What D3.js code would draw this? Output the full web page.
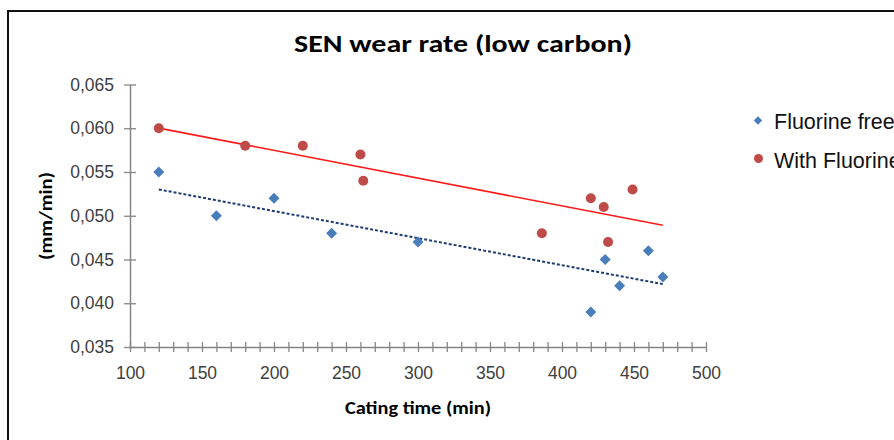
<!DOCTYPE html>
<html><head><meta charset="utf-8">
<script src="https://cdn.jsdelivr.net/npm/d3@7"></script>
<style>body{margin:0;background:#fff}svg{display:block}</style>
</head><body><svg id="c" width="894" height="440"></svg>
<script>
const title = "SEN wear rate (low carbon)";
const xTitle = "Cating time (min)";
const yTitle = "(mm/min)";
const seriesNames = ["Fluorine free", "With Fluorine"];
const freeX = [120, 160, 200, 240, 300, 420, 430, 440, 460, 470];
const freeY = [0.055, 0.050, 0.052, 0.048, 0.047, 0.039, 0.045, 0.042, 0.046, 0.043];
const withX = [120, 180, 220, 260, 262, 386, 420, 429, 432, 449];
const withY = [0.060, 0.058, 0.058, 0.057, 0.054, 0.048, 0.052, 0.051, 0.047, 0.053];
const trendRange = [120, 470];
const xTicks = [100, 150, 200, 250, 300, 350, 400, 450, 500];
const yTicks = [0.035, 0.040, 0.045, 0.050, 0.055, 0.060, 0.065];

const svg = d3.select("#c");
const x = d3.scaleLinear().domain([100, 500]).range([130, 706]);
const y = d3.scaleLinear().domain([0.035, 0.065]).range([347, 84.5]);
const axisCol = "#868686";
const txtCol = "#404040";

// outer chart border
svg.append("rect").attr("x", 8).attr("y", 11).attr("width", 900).attr("height", 440)
  .attr("fill", "none").attr("stroke", "#111").attr("stroke-width", 2);

svg.append("text").attr("x", 463).attr("y", 52).attr("text-anchor", "middle")
  .attr("font-family", "Carlito, 'Liberation Sans Narrow', 'Liberation Sans', sans-serif")
  .attr("font-weight", "bold").attr("font-size", 24).attr("fill", "#000")
  .attr("textLength", 338).attr("lengthAdjust", "spacingAndGlyphs").text(title);

// y axis
const yAxis = d3.axisLeft(y).tickValues(yTicks).tickSize(6).tickSizeOuter(0)
  .tickFormat(d => d3.format(".3f")(d).replace(".", ","));
const gy = svg.append("g").attr("transform", `translate(${x(100)},0)`).call(yAxis);
gy.select(".domain").attr("stroke", axisCol).attr("stroke-width", 1.5);
gy.selectAll(".tick line").attr("stroke", axisCol).attr("stroke-width", 1.3).attr("x2", 6).attr("x1", -6);
gy.selectAll(".tick text").attr("x", -16).attr("fill", txtCol)
  .attr("font-family", "'Liberation Sans', Arial, sans-serif").attr("font-size", 17.5);

// x axis with ticks every 10
const xAxis = d3.axisBottom(x).tickValues(d3.range(100, 501, 10)).tickSize(5).tickSizeOuter(0)
  .tickFormat(d => xTicks.includes(d) ? d : "");
const gx = svg.append("g").attr("transform", `translate(0,${y(0.035)})`).call(xAxis);
gx.select(".domain").attr("stroke", axisCol).attr("stroke-width", 1.5);
gx.selectAll(".tick line").attr("stroke", axisCol).attr("stroke-width", 1.3).attr("y1", -5).attr("y2", 5);
gx.selectAll(".tick text").attr("y", 20).attr("fill", txtCol)
  .attr("font-family", "'Liberation Sans', Arial, sans-serif").attr("font-size", 17.5);

// axis titles
svg.append("text").attr("x", 418).attr("y", 414).attr("text-anchor", "middle")
  .attr("font-family", "Carlito, 'Liberation Sans Narrow', 'Liberation Sans', sans-serif")
  .attr("font-weight", "bold").attr("font-size", 17).attr("fill", "#000")
  .attr("textLength", 146).attr("lengthAdjust", "spacingAndGlyphs").text(xTitle);
svg.append("text").attr("transform", "translate(52,216) rotate(-90)").attr("text-anchor", "middle")
  .attr("font-family", "Carlito, 'Liberation Sans Narrow', 'Liberation Sans', sans-serif")
  .attr("font-weight", "bold").attr("font-size", 17).attr("fill", "#000")
  .attr("textLength", 88).attr("lengthAdjust", "spacingAndGlyphs").text(yTitle);

// regression
function fit(xs, ys) {
  const mx = d3.mean(xs), my = d3.mean(ys);
  let sxy = 0, sxx = 0;
  xs.forEach((v, i) => { sxy += (v - mx) * (ys[i] - my); sxx += (v - mx) ** 2; });
  const b = sxy / sxx;
  return t => my + b * (t - mx);
}
const fFree = fit(freeX, freeY), fWith = fit(withX, withY);
const line = d3.line().x(d => x(d[0])).y(d => y(d[1]));
svg.append("path").attr("d", line(trendRange.map(t => [t, fWith(t)])))
  .attr("stroke", "#ff1a1a").attr("stroke-width", 1.6).attr("fill", "none");
svg.append("path").attr("d", line(trendRange.map(t => [t, fFree(t)])))
  .attr("stroke", "#1f3b73").attr("stroke-width", 2).attr("stroke-dasharray", "3,2").attr("fill", "none");

// points
const blue = "#4a7ebb", red = "#be4b48";
const diamondPath = h => `M0,${-h}L${h},0L0,${h}L${-h},0Z`;
svg.append("g").selectAll("path").data(freeX.map((v, i) => [v, freeY[i]])).join("path")
  .attr("d", diamondPath(5.5)).attr("transform", d => `translate(${x(d[0])},${y(d[1])})`).attr("fill", blue);
svg.append("g").selectAll("circle").data(withX.map((v, i) => [v, withY[i]])).join("circle")
  .attr("cx", d => x(d[0])).attr("cy", d => y(d[1])).attr("r", 5).attr("fill", red);

// legend
const lg = svg.append("g");
lg.append("path").attr("d", diamondPath(4.2)).attr("transform", "translate(758,120.5)").attr("fill", blue);
lg.append("circle").attr("cx", 758.5).attr("cy", 158.5).attr("r", 4.5).attr("fill", red);
[[seriesNames[0], 128.5], [seriesNames[1], 167.5]].forEach(([t, yy]) => {
  lg.append("text").attr("x", 774).attr("y", yy).attr("font-family", "'Liberation Sans', Arial, sans-serif")
    .attr("font-size", 21.5).attr("fill", "#111").text(t);
});
</script></body></html>
